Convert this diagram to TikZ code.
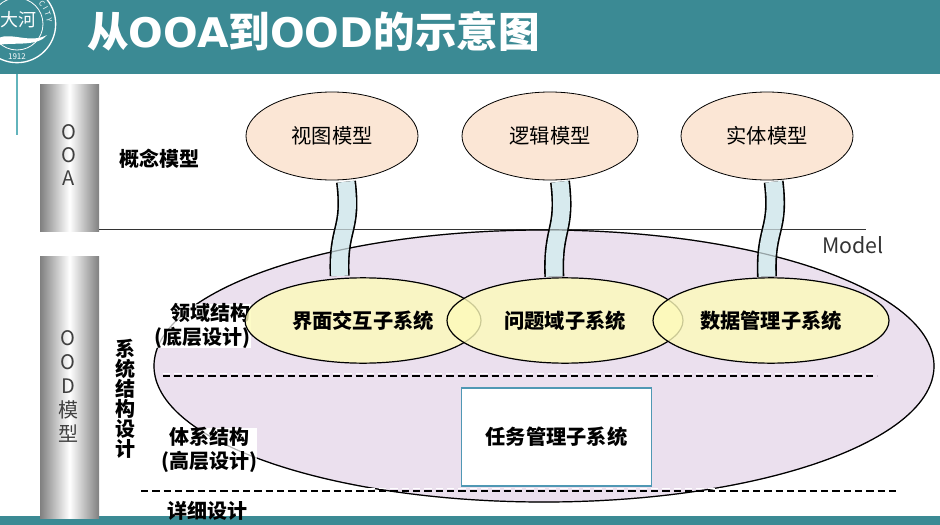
\documentclass[tikz,border=0pt]{standalone}
\usepackage{fontspec}
\setmainfont{Noto Sans CJK SC}
\newfontfamily\titlelatin{DejaVu Sans}[BoldFont={DejaVu Sans Bold}]
\usetikzlibrary{arrows,backgrounds,calc,shapes.geometric}
\definecolor{headteal}{HTML}{3B8A94}
\definecolor{ruleteal}{HTML}{62B4BC}
\definecolor{peach}{HTML}{FBE6D5}
\definecolor{lilac}{HTML}{EBE0EE}
\definecolor{paleyellow}{HTML}{FDFBBA}
\definecolor{tubeblue}{HTML}{D7EAEE}
\definecolor{boxblue}{HTML}{4F98B4}
\tikzset{
  pillar/.style={minimum width=44.25pt,left color=black!50,right color=black!50,middle color=white,inner sep=0pt},
  model/.style={ellipse,draw,line width=0.6pt,fill=peach,minimum width=129pt,minimum height=66pt,inner sep=0pt,font=\fontsize{15.2}{18}\selectfont},
  subsys/.style={ellipse,draw,line width=0.9pt,fill=paleyellow,fill opacity=0.8,text opacity=1,minimum width=177pt,minimum height=64pt,inner sep=0pt,font=\fontsize{15.2}{18}\selectfont\bfseries},
  tube/.style={line width=1.2pt,double=tubeblue,double distance=12.6pt},
  label/.style={inner sep=0.75pt,align=center,font=\fontsize{15}{17.5}\selectfont\bfseries},
  cut/.style={dash pattern=on 5.5pt off 3pt,line width=0.8pt}
}
\begin{document}
\begin{tikzpicture}[x=0.75pt,y=0.75pt,yscale=-1,xscale=1]
\useasboundingbox (0,0) rectangle (940,525);

%Header
\fill[headteal] (0,0) rectangle (940,74);
\fill[headteal] (0,516) rectangle (940,525);
\draw[ruleteal,line width=1.5pt] (17,74) -- (17,135);
\node[circle,draw=white,line width=1pt,fill=headteal,minimum size=58pt,inner sep=0pt] (logo) at (17,24) {};
\node[circle,draw=white,line width=0.6pt,minimum size=39pt,inner sep=0pt] (logoin) at (17,24) {};
\fill[white] (-2,38) .. controls (12,32) and (30,44) .. (47,35) .. controls (38,47) and (14,42) .. (-2,45) -- cycle;
\node[text=white,inner sep=0pt,font=\fontsize{13.5}{14}\selectfont] (logoname) at (19,20) {大河};
\node[text=white,inner sep=0pt,font=\fontsize{6}{6}\selectfont] (logoyear) at (17,56.5) {1912};
\foreach \ch/\ang in {C/-40,I/-29,T/-19,Y/-7}
  \node[text=white,inner sep=0pt,font=\fontsize{5.5}{6}\selectfont,rotate=-\ang-90] (logo\ch) at ($(17,24)+(\ang:32.5)$) {\ch};
\node[anchor=west,text=white,inner sep=0pt,font=\fontsize{31.2}{34}\selectfont\bfseries] (title) at (87,31) {从{\titlelatin\fontsize{30.6}{34}\selectfont OOA}到{\titlelatin\fontsize{30.6}{34}\selectfont OOD}的示意图};

%Pillars
\node[pillar,minimum height=110.25pt] (ooa) at (69.5,157.5) {};
\node[pillar,minimum height=196.5pt] (ood) at (69.5,387) {};
\node[align=center,text=black!75,font=\fontsize{15}{17.3}\selectfont] (ooatext) at (69,155) {O\\O\\A};
\node[align=center,text=black!75,font=\fontsize{15}{18}\selectfont] (oodtext) at (68,386) {O\\O\\D\\模\\型};

%Big ellipse and rule
\draw[line width=0.4pt,black!80] (99,229) -- (866,229);
\node[ellipse,draw,line width=0.9pt,fill=lilac,minimum width=585pt,minimum height=204pt,inner sep=0pt] (domain) at (544,366) {};

%Models
\node[model] (view) at (332,136) {视图模型};
\node[model,minimum width=132pt] (logic) at (550,136) {逻辑模型};
\node[model] (entity) at (767,136) {实体模型};

%Left labels under the subsystems
\node[label,align=right,fill=white,inner sep=0pt] (field) at (202.5,326) {领域结构\\(底层设计)};
\node[label,fill=white,inner sep=0pt] (arch) at (209,450) {体系结构\\(高层设计)};

%Subsystems
\node[subsys] (ui) at (363,320.5) {界面交互子系统};
\node[subsys] (problem) at (565,320.5) {问题域子系统};
\node[subsys] (data) at (771,320.5) {数据管理子系统};

%Tubes
\draw[tube] ([xshift=10.5pt,yshift=1pt]view.south) .. controls +(6,50) and +(-2,-50) .. ([xshift=-17.5pt,yshift=-1pt]ui.north);
\draw[tube] ([xshift=7.5pt,yshift=1pt]logic.south) .. controls +(6,50) and +(-2,-50) .. ([xshift=-8pt,yshift=-0.5pt]problem.north);
\draw[tube] ([xshift=5pt,yshift=1pt]entity.south) .. controls +(6,50) and +(-2,-50) .. ([xshift=-3pt,yshift=-0.5pt]data.north);
\draw[line width=0.4pt,black!80,opacity=0.3] (99,229) -- (866,229);
\node[ellipse,draw,line width=0.9pt,draw opacity=0.3,minimum width=585pt,minimum height=204pt,inner sep=0pt] (domainedge) at (544,366) {};

%Task box
\node[rectangle,draw=boxblue,line width=0.9pt,fill=white,minimum width=143pt,minimum height=73.5pt,inner sep=0pt,font=\fontsize{15.2}{18}\selectfont\bfseries] (task) at (556.5,437) {任务管理子系统};

%Dashed
\coordinate (cuta) at (163,376);
\coordinate (cutb) at (877,376);
\coordinate (cutc) at (141,491);
\coordinate (cutd) at (900,491);
\draw[cut,white] ([yshift=-2.2pt]cuta) -- ([yshift=-2.2pt]cutb);
\draw[cut,white] ([yshift=-2.2pt]cutc) -- ([yshift=-2.2pt]cutd);
\draw[cut] (cuta) -- (cutb);
\draw[cut] (cutc) -- (cutd);

%Labels
\node[label] (concept) at (159,159) {概念模型};
\node[label,font=\fontsize{15}{15}\selectfont\bfseries] (sysdesign) at (125,399) {系\\统\\结\\构\\设\\计};
\node[label] (detail) at (207,511) {详细设计};
\node[inner sep=0pt,text=black!80,font=\fontsize{16}{18}\selectfont] (modelname) at (853,245) {Model};
\end{tikzpicture}
\end{document}
